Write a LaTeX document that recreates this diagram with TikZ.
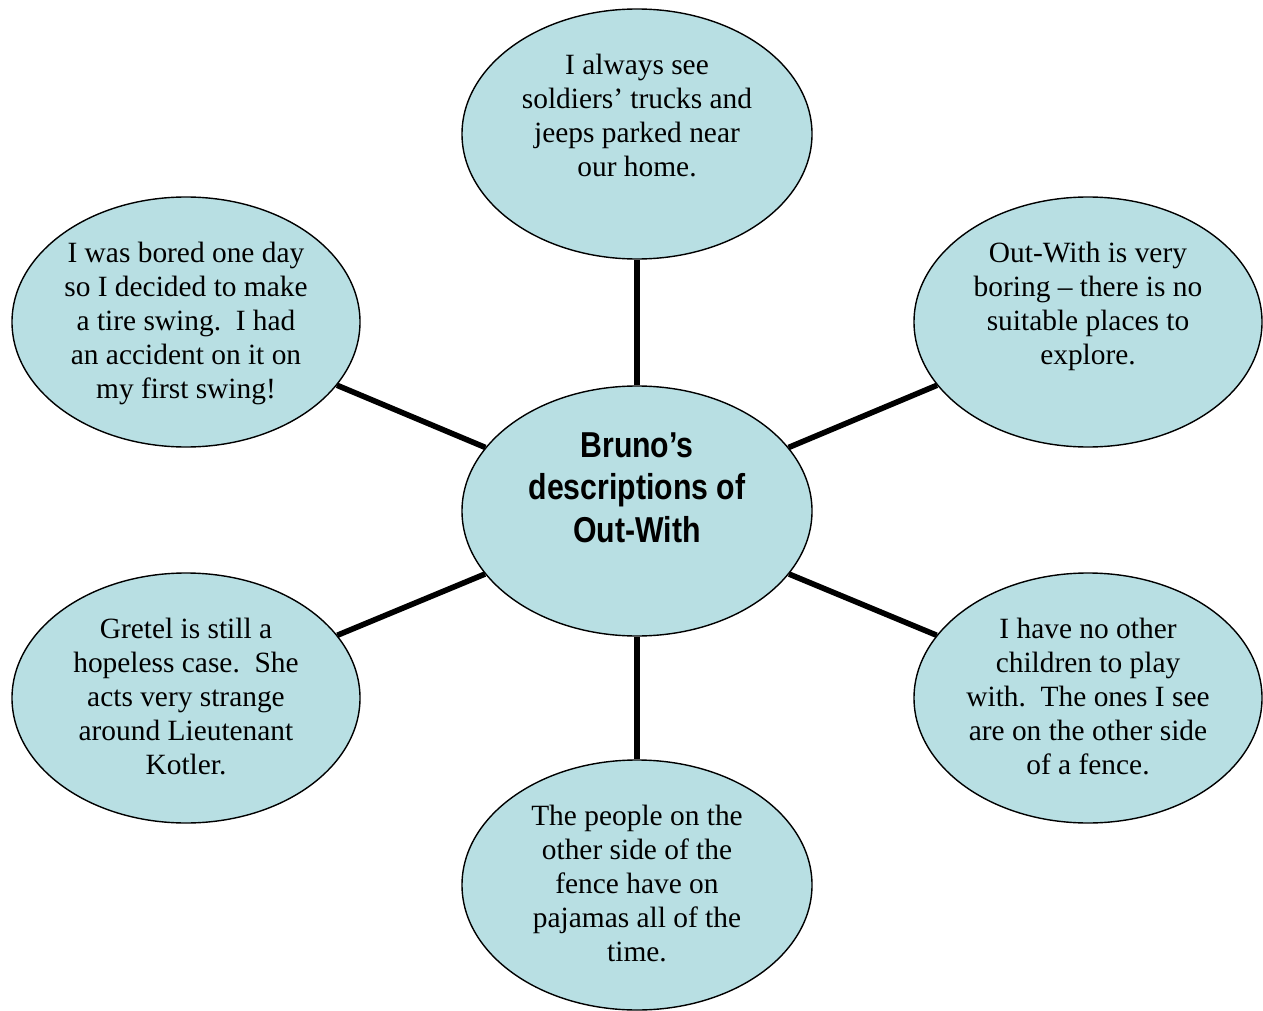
\documentclass[tikz,border=0pt]{standalone}
\usepackage{fontspec}
\setmainfont{Liberation Serif}
\newfontfamily\centerfont[FakeStretch=0.84]{Liberation Sans}
\usetikzlibrary{shapes.geometric}
\definecolor{bubble}{RGB}{184,223,227}
\tikzset{
  bub/.style={ellipse, draw=black, line width=1.4pt, fill=bubble, inner sep=0pt,
    minimum width=348pt, minimum height=250pt},
  btext/.style={anchor=north, align=center, inner sep=0pt,
    font=\fontsize{29.4}{34}\selectfont},
  ctext/.style={anchor=north, align=center, inner sep=0pt,
    font=\centerfont\bfseries\fontsize{36}{42.5}\selectfont},
  conn/.style={line width=5.6pt}
}
\begin{document}
\begin{tikzpicture}[x=1pt,y=-1pt]
\useasboundingbox (0,0) rectangle (1263,1011);
\node[bub, minimum width=350pt] (c)  at (637,511) {};
\node[bub, minimum width=350pt] (t)  at (637,134) {};
\node[bub] (tl) at (186,322) {};
\node[bub] (tr) at (1088,322) {};
\node[bub] (bl) at (186,698) {};
\node[bub] (br) at (1088,698) {};
\node[bub, minimum width=350pt] (b)  at (637,885) {};
\draw[conn] (c) -- (t);
\draw[conn] (c) -- (tl);
\draw[conn] (c) -- (tr);
\draw[conn] (c) -- (bl);
\draw[conn] (c) -- (br);
\draw[conn] (c) -- (b);
\node[ctext] (ct) at ([yshift=-47pt]c.north) {Bruno’s\\descriptions of\\Out-With};
\node[btext] (tt) at ([yshift=-46pt]t.north) {I always see\\soldiers’ trucks and\\jeeps parked near\\our home.};
\node[btext] (tlt) at ([yshift=-46pt]tl.north) {I was bored one day\\so I decided to make\\a tire swing.\ \ I had\\an accident on it on\\my first swing!};
\node[btext] (trt) at ([yshift=-46pt]tr.north) {Out-With is very\\boring – there is no\\suitable places to\\explore.};
\node[btext] (blt) at ([yshift=-46pt]bl.north) {Gretel is still a\\hopeless case.\ \ She\\acts very strange\\around Lieutenant\\Kotler.};
\node[btext] (brt) at ([yshift=-46pt]br.north) {I have no other\\children to play\\with.\ \ The ones I see\\are on the other side\\of a fence.};
\node[btext] (bt) at ([yshift=-46pt]b.north) {The people on the\\other side of the\\fence have on\\pajamas all of the\\time.};
\end{tikzpicture}
\end{document}
